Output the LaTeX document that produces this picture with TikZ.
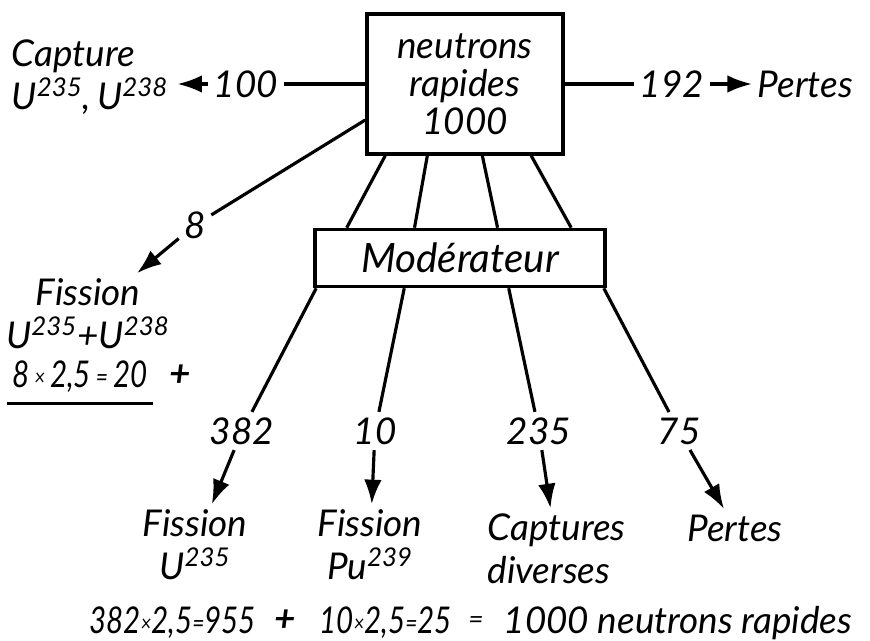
\documentclass[tikz,border=0pt]{standalone}
\usepackage{fontspec}
\usepackage{graphicx}
\setmainfont{Lato}
\usetikzlibrary{arrows.meta,calc}

\newcommand{\fois}{\raisebox{1.5pt}{\fontsize{13}{13}\selectfont ×}}
\newcommand{\egal}{\raisebox{1pt}{\fontsize{15}{15}\selectfont =}}
\newcommand{\serre}[1]{\scalebox{0.8}[1]{#1}}

\tikzset{
  hand/.style={font=\fontsize{21}{24.5}\selectfont\itshape, inner sep=3pt},
  calcul/.style={font=\fontsize{21}{22}\selectfont\itshape, inner sep=3pt},
  bloc/.style={hand, draw, line width=2pt, align=center},
  flow/.style={line width=1.8pt},
  flowarrow/.style={line width=1.8pt, -{Latex[length=14pt,width=10pt]}},
}

\begin{document}
\begin{tikzpicture}[x=0.02cm, y=-0.02cm, every node/.style={hand}]
    \useasboundingbox (0,0) rectangle (870,641);
    % Draw boxes
    \node [bloc, minimum width=3.92cm, minimum height=2.8cm, font=\fontsize{21}{21.5}\selectfont\itshape] (rapides) at (465,84) {neutrons\\rapides\\1000};
    \node [bloc, minimum width=5.8cm, minimum height=1.14cm, font=\fontsize{23}{24}\selectfont\itshape] (moder) at (460,258) {Modérateur};
    % Top branches
    \node (n100) at (246,84) {100};
    \node (n192) at (672,84) {192};
    \node [anchor=west, align=left] (capture) at (6,77) {Capture\\U\textsuperscript{235},\,U\textsuperscript{238}};
    \node [anchor=west] (pertesH) at (752,84) {Pertes};
    \draw [flow] (rapides.west) -- (n100);
    \draw [flowarrow, shorten >=2pt] (n100) -- (n100 -| capture.east);
    \draw [flow] (rapides.east) -- (n192);
    \draw [flowarrow] (n192) -- (pertesH);
    % Fast fission
    \node (n8) at (195,225) {8};
    \node [align=center] (fisA) at (88,314) {Fission\\U\textsuperscript{235}+U\textsuperscript{238}};
    \node [calcul, anchor=west] (calc8) at (7,377) {\serre{8\,\fois\,2,5\,\egal\,20}};
    \node (plus8) at (180,376) {\textbf{+}};
    \draw [flow] ($(rapides.west)+(0,36)$) -- (n8);
    \draw [flowarrow] (n8) -- (fisA);
    \draw [flow] ([yshift=-3pt]calc8.south west) -- ([yshift=-3pt]calc8.south east);
    % Box to moderator
    \foreach \a/\b in {0.1/0.114, 0.311/0.345, 0.587/0.628, 0.832/0.879}
        \draw [flow] ($(rapides.south west)!\a!(rapides.south east)$) -- ($(moder.north west)!\b!(moder.north east)$);
    % Moderator branches
    \node (n382) at (242,431) {382};
    \node (n10) at (375,431) {10};
    \node (n235) at (539,431) {235};
    \node (n75) at (679,431) {75};
    \node [align=center] (fisU) at (195,545) {Fission\\U\textsuperscript{235}};
    \node [align=center] (fisPu) at (370,545) {Fission\\Pu\textsuperscript{239}};
    \node [anchor=west, align=left] (captD) at (482,549) {Captures\\diverses};
    \node (pertesB) at (735,528) {Pertes};
    \foreach \f/\n in {0.01/n382, 0.31/n10, 0.666/n235, 0.99/n75}
        \draw [flow] ($(moder.south west)!\f!(moder.south east)$) -- (\n);
    \foreach \n/\t in {n382/fisU, n10/fisPu, n235/captD, n75/pertesB}
        \draw [flowarrow] (\n) -- (\t);
    % Balance
    \node [calcul, anchor=west] (eq382) at (84,623) {\serre{382\fois2,5\egal955}};
    \node (eqplus) at (285,621) {\textbf{+}};
    \node [calcul, anchor=west] (eq10) at (314,623) {\serre{10\fois2,5\egal25}};
    \node (eqequal) at (476,623) {\egal};
    \node [anchor=west] (eqtotal) at (498,623) {1000 neutrons rapides};
    \draw [line width=1pt] (eq382.south west) -- (eq382.south east);
    \draw [line width=1pt] (eq10.south west) -- (eq10.south east);
\end{tikzpicture}
\end{document}
